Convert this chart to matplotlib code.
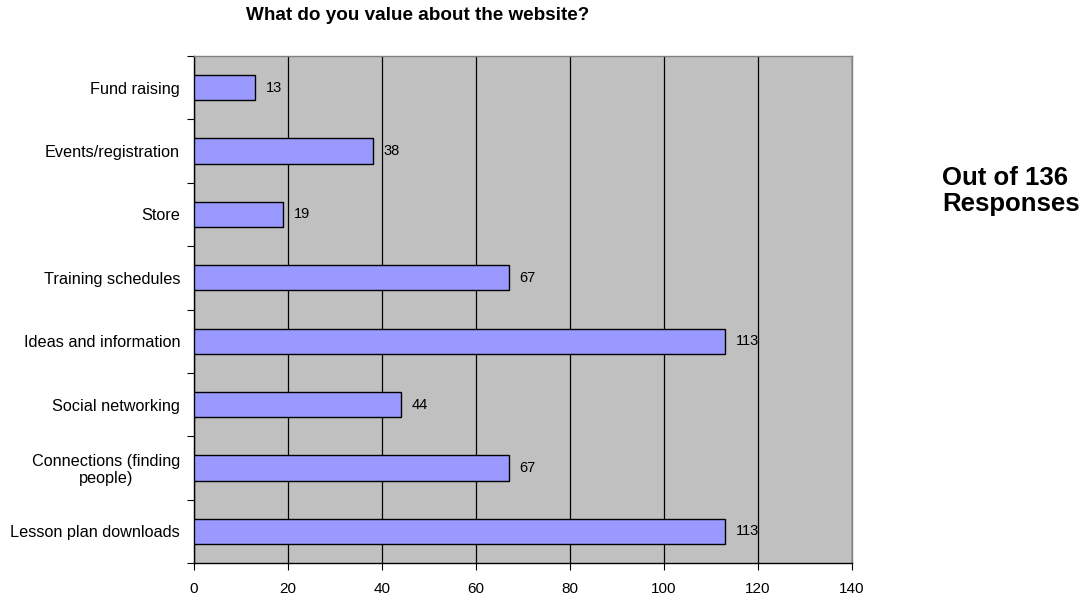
import matplotlib
matplotlib.use("Agg")
import matplotlib.pyplot as plt
import numpy as np

categories = [
    "Fund raising",
    "Events/registration",
    "Store",
    "Training schedules",
    "Ideas and information",
    "Social networking",
    "Connections (finding\npeople)",
    "Lesson plan downloads",
]
counts = [13, 38, 19, 67, 113, 44, 67, 113]
x_ticks = [0, 20, 40, 60, 80, 100, 120, 140]

plt.rcParams["font.family"] = ["Liberation Sans", "DejaVu Sans"]

fig = plt.figure(figsize=(10.84, 5.99), dpi=100)
ax = fig.add_axes([194 / 1084, 1 - 563 / 599, (852 - 194) / 1084, (563 - 56) / 599])
ax.set_facecolor("#C0C0C0")

n = len(categories)
ypos = np.arange(n)[::-1]  # first category at top
ax.barh(ypos, counts, height=0.4, color="#9999FF", edgecolor="black", linewidth=1.0, zorder=3)

for y, v in zip(ypos, counts):
    ax.text(v + 2.3, y, str(v), va="center", ha="left", fontsize=10.5, zorder=4)

ax.set_xlim(0, 140)
ax.set_ylim(-0.5, n - 0.5)
ax.set_xticks(x_ticks)
ax.set_xticklabels([str(t) for t in x_ticks], fontsize=11)
ax.xaxis.grid(True, color="black", linewidth=0.9, zorder=1)
ax.set_axisbelow(True)

# category labels placed at bar centres, tick marks at category boundaries
ax.set_yticks(np.arange(-0.5, n, 1.0))
ax.set_yticklabels([])
ax.set_yticks(ypos, minor=True)
ax.set_yticklabels(categories, minor=True, fontsize=11.7, multialignment="center",
                   linespacing=1.1)
ax.tick_params(axis="y", which="minor", length=0, pad=10)
ax.tick_params(axis="y", which="major", length=5, direction="out", color="black")
ax.tick_params(axis="x", length=5, direction="out", color="black", pad=8.5)

for side in ["left", "bottom"]:
    ax.spines[side].set_color("black")
    ax.spines[side].set_linewidth(1.0)
for side in ["top", "right"]:
    ax.spines[side].set_color("#808080")
    ax.spines[side].set_linewidth(1.0)

fig.text(418 / 1084, 1 - 15 / 599, "What do you value about the website?",
         ha="center", va="center", fontsize=13.6, fontweight="bold")

fig.text(942 / 1084, 1 - 191 / 599, "Out of 136\nResponses",
         ha="left", va="center", fontsize=18.5, fontweight="bold",
         linespacing=1.08)

fig.savefig("out.png", dpi=100)
